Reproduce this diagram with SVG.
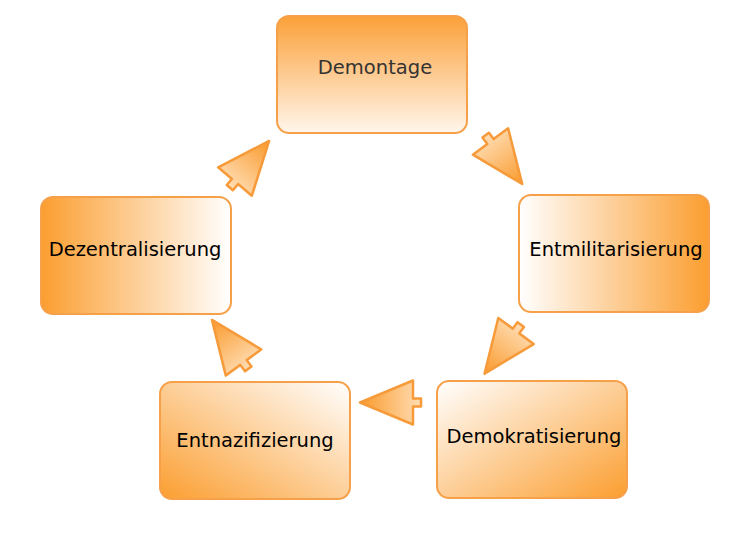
<svg xmlns="http://www.w3.org/2000/svg" width="750" height="536" viewBox="0 0 750 536">
  <defs>
    <linearGradient id="gTopDown" x1="0" y1="0" x2="0" y2="1">
      <stop offset="0" stop-color="#FBA038"/>
      <stop offset="1" stop-color="#FFF6EC"/>
    </linearGradient>
    <linearGradient id="gLR" x1="0" y1="0" x2="1" y2="0">
      <stop offset="0" stop-color="#FFFFFF"/>
      <stop offset="1" stop-color="#FB9E30"/>
    </linearGradient>
    <linearGradient id="gRL" x1="1" y1="0" x2="0" y2="0">
      <stop offset="0" stop-color="#FFFFFF"/>
      <stop offset="1" stop-color="#FB9E30"/>
    </linearGradient>
    <linearGradient id="gTLBR" x1="0" y1="0" x2="1" y2="1">
      <stop offset="0" stop-color="#FFFFFF"/>
      <stop offset="1" stop-color="#FB9E30"/>
    </linearGradient>
    <linearGradient id="gTRBL" x1="1" y1="0" x2="0" y2="1">
      <stop offset="0" stop-color="#FFFFFF"/>
      <stop offset="1" stop-color="#FB9E30"/>
    </linearGradient>
    <linearGradient id="gArrow" x1="0" y1="0" x2="1" y2="0">
      <stop offset="0" stop-color="#FFDDB4"/>
      <stop offset="1" stop-color="#F99A2C"/>
    </linearGradient>
    <path id="arrowShape" d="M -8,-4 L 0,-4 L 0,-22 L 53,0 L 0,22 L 0,4 L -8,4 Z"/>
  </defs>
  <style>
    .box { stroke: #F6A04A; stroke-width: 2; }
    .lbl { font-family: "DejaVu Sans", Verdana, sans-serif; font-size: 19.5px; text-anchor: middle; fill: #000; }
    .arrow { fill: url(#gArrow); stroke: #F69A3A; stroke-width: 2.5; stroke-linejoin: round; }
  </style>
  <rect width="750" height="536" fill="#FFFFFF"/>

  <g id="connectors">
    <use href="#arrowShape" class="arrow" transform="translate(490.5,141.5) rotate(53.2)"/>
    <use href="#arrowShape" class="arrow" transform="translate(516,331) rotate(126.4)"/>
    <use href="#arrowShape" class="arrow" transform="translate(413,402.5) rotate(180)"/>
    <use href="#arrowShape" class="arrow" transform="translate(243.5,362.5) rotate(-126.5)"/>
    <use href="#arrowShape" class="arrow" transform="translate(235,181.5) rotate(-49.9)"/>
  </g>

  <g id="demontage">
    <rect class="box" x="277" y="16" width="190" height="117" rx="12" fill="url(#gTopDown)"/>
    <text class="lbl" x="375" y="73.5" style="fill:#333">Demontage</text>
  </g>
  <g id="entmilitarisierung">
    <rect class="box" x="519" y="195" width="190" height="117" rx="12" fill="url(#gLR)"/>
    <text class="lbl" x="616" y="256">Entmilitarisierung</text>
  </g>
  <g id="demokratisierung">
    <rect class="box" x="437" y="381" width="190" height="117" rx="12" fill="url(#gTLBR)"/>
    <text class="lbl" x="534" y="443">Demokratisierung</text>
  </g>
  <g id="entnazifizierung">
    <rect class="box" x="160" y="382" width="190" height="117" rx="12" fill="url(#gTRBL)"/>
    <text class="lbl" x="255" y="447">Entnazifizierung</text>
  </g>
  <g id="dezentralisierung">
    <rect class="box" x="41" y="197" width="190" height="117" rx="12" fill="url(#gRL)"/>
    <text class="lbl" x="135" y="256">Dezentralisierung</text>
  </g>
</svg>
